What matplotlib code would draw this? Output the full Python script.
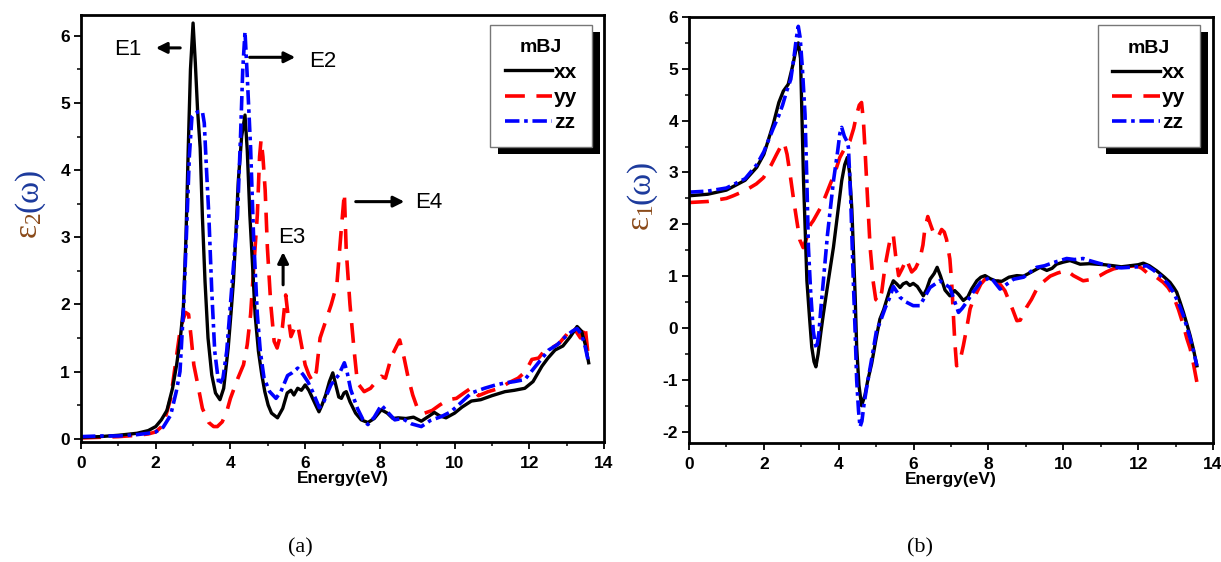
import matplotlib
matplotlib.use("Agg")
import matplotlib.pyplot as plt
from matplotlib.patches import Rectangle
from matplotlib.ticker import MultipleLocator

plt.rcParams['font.family'] = ['Liberation Sans', 'DejaVu Sans']
plt.rcParams['font.weight'] = 'bold'
plt.rcParams['mathtext.fontset'] = 'stix'

# ---------------- data: epsilon_2 (panel a) ----------------
e2_xx_x = [0, 0.5, 1.0, 1.5, 1.8, 2.0, 2.15, 2.3, 2.45, 2.56, 2.66, 2.74, 2.81, 2.87, 2.93, 3.0,
           3.06, 3.12, 3.19, 3.25, 3.32, 3.4, 3.5, 3.6, 3.72, 3.82, 3.94, 4.02, 4.08, 4.15, 4.21,
           4.3, 4.39, 4.45, 4.52, 4.6, 4.66, 4.75, 4.84, 4.92, 5.01, 5.1, 5.26, 5.4, 5.52, 5.62,
           5.7, 5.8, 5.9, 6.0, 6.1, 6.2, 6.3, 6.37, 6.45, 6.55, 6.65, 6.74, 6.82, 6.9, 6.97, 7.04,
           7.1, 7.2, 7.35, 7.5, 7.68, 7.85, 8.04, 8.2, 8.35, 8.49, 8.7, 8.9, 9.11, 9.3, 9.46, 9.6,
           9.77, 10.0, 10.2, 10.45, 10.7, 11.0, 11.35, 11.6, 11.88, 12.1, 12.34, 12.5, 12.69, 12.9,
           13.1, 13.28, 13.4, 13.5, 13.59]
e2_xx_y = [0.02, 0.03, 0.05, 0.08, 0.12, 0.18, 0.28, 0.42, 0.75, 1.1, 1.5, 1.95, 3.0, 4.3, 5.5, 6.19,
           5.6, 4.9, 4.33, 3.3, 2.34, 1.5, 0.95, 0.68, 0.58, 0.75, 1.35, 1.9, 2.34, 3.1, 3.83,
           4.5, 4.82, 4.3, 3.33, 2.5, 1.85, 1.3, 0.95, 0.7, 0.5, 0.38, 0.31, 0.45, 0.68, 0.72,
           0.65, 0.75, 0.72, 0.8, 0.72, 0.6, 0.48, 0.40, 0.5, 0.65, 0.85, 0.98, 0.8, 0.62, 0.6, 0.68,
           0.7, 0.55, 0.38, 0.28, 0.24, 0.3, 0.43, 0.38, 0.3, 0.31, 0.3, 0.32, 0.26, 0.33, 0.39, 0.34,
           0.31, 0.38, 0.47, 0.56, 0.58, 0.64, 0.70, 0.72, 0.75, 0.85, 1.08, 1.2, 1.32, 1.38,
           1.52, 1.67, 1.6, 1.4, 1.13]

e2_yy_x = [0, 0.5, 1.0, 1.5, 1.8, 2.0, 2.2, 2.4, 2.55, 2.65, 2.72, 2.8, 2.88, 2.95, 3.02, 3.11,
           3.25, 3.42, 3.55, 3.65, 3.78, 3.9, 4.0, 4.2, 4.35, 4.45, 4.54, 4.63, 4.72, 4.78, 4.82,
           4.87, 4.93, 4.99, 5.08, 5.17, 5.25, 5.39, 5.48, 5.55, 5.62, 5.72, 5.8, 5.9, 6.0, 6.1,
           6.2, 6.3, 6.4, 6.55, 6.7, 6.85, 6.95, 7.05, 7.1, 7.2, 7.31, 7.4, 7.58, 7.75, 7.9, 8.04,
           8.15, 8.31, 8.53, 8.65, 8.75, 8.88, 9.02, 9.2, 9.4, 9.6, 9.83, 10.05, 10.25, 10.46,
           10.64, 10.9, 11.2, 11.44, 11.7, 11.9, 12.07, 12.25, 12.42, 12.6, 12.8, 13.0, 13.15,
           13.25, 13.37, 13.49, 13.58]
e2_yy_y = [0.01, 0.02, 0.03, 0.05, 0.07, 0.1, 0.2, 0.6, 1.2, 1.6, 1.75, 1.88, 1.85, 1.5, 1.1, 0.85,
           0.45, 0.24, 0.18, 0.18, 0.25, 0.4, 0.6, 0.9, 1.1, 1.4, 1.85, 2.6, 3.33, 4.2, 4.45,
           4.2, 3.7, 2.84, 2.0, 1.45, 1.35, 1.65, 2.14, 1.8, 1.52, 1.65, 1.7, 1.4, 1.1, 0.95,
           0.85, 1.0, 1.5, 1.75, 2.0, 2.3, 3.0, 3.66, 2.8, 2.0, 1.32, 0.83, 0.7, 0.75, 0.85, 0.93,
           0.9, 1.22, 1.47, 1.2, 0.93, 0.65, 0.43, 0.38, 0.42, 0.5, 0.58, 0.6, 0.68, 0.76,
           0.64, 0.7, 0.75, 0.83, 0.9, 1.0, 1.18, 1.2, 1.32, 1.35, 1.42, 1.55, 1.67,
           1.6, 1.5, 1.69, 1.22]

e2_zz_x = [0, 0.5, 1.0, 1.5, 1.8, 2.0, 2.2, 2.4, 2.55, 2.65, 2.75, 2.82, 2.9, 2.97, 3.05, 3.15,
           3.25, 3.3, 3.36, 3.42, 3.5, 3.58, 3.69, 3.8, 3.9, 4.0, 4.1, 4.19, 4.27, 4.33, 4.39,
           4.45, 4.54, 4.62, 4.72, 4.8, 4.9, 5.05, 5.22, 5.35, 5.53, 5.65, 5.8, 5.95, 6.07, 6.2,
           6.38, 6.5, 6.69, 6.9, 7.05, 7.12, 7.22, 7.4, 7.55, 7.68, 7.85, 8.04, 8.2, 8.4, 8.6,
           8.85, 9.11, 9.35, 9.65, 9.9, 10.2, 10.45, 10.8, 11.1, 11.35, 11.6, 11.88, 12.2, 12.52,
           12.75, 12.97, 13.15, 13.28, 13.4, 13.5, 13.58]
e2_zz_y = [0.03, 0.04, 0.04, 0.06, 0.08, 0.1, 0.17, 0.35, 0.7, 1.0, 2.0, 3.0, 4.2, 4.8, 4.85, 4.87,
           4.87, 4.7, 4.0, 3.35, 2.2, 1.3, 0.8, 0.9, 1.3, 2.0, 2.7, 3.33, 4.5, 5.5, 6.06,
           5.4, 4.33, 3.0, 1.85, 1.3, 0.9, 0.7, 0.6, 0.7, 0.94, 0.98, 1.05, 0.95, 0.85, 0.7,
           0.46, 0.55, 0.8, 0.95, 1.13, 1.0, 0.73, 0.45, 0.28, 0.21, 0.32, 0.5, 0.4, 0.28, 0.3,
           0.22, 0.18, 0.27, 0.33, 0.4, 0.55, 0.68, 0.75, 0.8, 0.83, 0.85, 0.88, 1.1, 1.32,
           1.4, 1.52, 1.6, 1.64, 1.55, 1.36, 1.15]

# ---------------- data: epsilon_1 (panel b) ----------------
e1_xx_x = [0, 0.5, 1.0, 1.5, 1.81, 2.0, 2.25, 2.4, 2.52, 2.65, 2.78, 2.85, 2.92, 2.98, 3.06, 3.15,
           3.22, 3.28, 3.34, 3.39, 3.45, 3.52, 3.59, 3.72, 3.86, 3.97, 4.08, 4.16, 4.23, 4.29,
           4.35, 4.39, 4.44, 4.48, 4.54, 4.61, 4.7, 4.78, 4.88, 5.0, 5.1, 5.2, 5.37, 5.46, 5.55,
           5.64, 5.72, 5.81, 5.9, 5.99, 6.1, 6.26, 6.35, 6.44, 6.55, 6.63, 6.72, 6.84, 6.97, 7.1,
           7.2, 7.33, 7.45, 7.55, 7.69, 7.8, 7.91, 8.05, 8.18, 8.36, 8.55, 8.76, 8.94, 9.15, 9.38,
           9.56, 9.7, 9.82, 10.0, 10.18, 10.3, 10.45, 10.7, 10.89, 11.1, 11.34, 11.55, 11.78,
           12.0, 12.14, 12.3, 12.5, 12.7, 12.85, 12.95, 13.03, 13.12, 13.21, 13.3, 13.39, 13.48,
           13.57]
e1_xx_y = [2.55, 2.58, 2.66, 2.85, 3.1, 3.35, 3.93, 4.35, 4.57, 4.7, 5.09, 5.35, 5.5, 5.2, 2.84, 0.91,
           0.2, -0.37, -0.65, -0.75, -0.5, -0.1, 0.27, 0.9, 1.56, 2.2, 2.84, 3.15, 3.29, 3.0,
           2.3, 1.56, 0.6, -0.37, -1.1, -1.5, -1.3, -1.0, -0.69, -0.2, 0.17, 0.35, 0.75, 0.91, 0.85,
           0.78, 0.85, 0.88, 0.82, 0.86, 0.8, 0.62, 0.75, 0.94, 1.05, 1.17, 1.0, 0.73, 0.62, 0.72,
           0.65, 0.53, 0.6, 0.75, 0.91, 0.98, 1.01, 0.95, 0.91, 0.9, 0.98, 1.01, 1.0, 1.08, 1.17,
           1.11, 1.15, 1.23, 1.27, 1.3, 1.27, 1.23, 1.24, 1.23, 1.22, 1.2, 1.18, 1.2,
           1.22, 1.25, 1.2, 1.1, 0.98, 0.88, 0.78, 0.69, 0.5, 0.3, 0.08, -0.15, -0.42,
           -0.73]

e1_yy_x = [0, 0.5, 1.0, 1.18, 1.5, 1.8, 1.99, 2.2, 2.34, 2.45, 2.54, 2.62, 2.7, 2.8, 2.88, 2.96,
           3.05, 3.15, 3.25, 3.32, 3.5, 3.65, 3.77, 3.9, 4.03, 4.15, 4.3, 4.4, 4.48, 4.55, 4.61,
           4.66, 4.7, 4.77, 4.84, 4.92, 4.99, 5.08, 5.15, 5.24, 5.33, 5.4, 5.46, 5.52, 5.6, 5.7,
           5.81, 5.88, 5.95, 6.05, 6.17, 6.25, 6.3, 6.38, 6.45, 6.55, 6.65, 6.75, 6.82, 6.88, 6.97,
           7.02, 7.06, 7.1, 7.15, 7.22, 7.33, 7.42, 7.51, 7.6, 7.69, 7.8, 7.96, 8.05, 8.13, 8.25,
           8.44, 8.53, 8.65, 8.76, 8.85, 9.02, 9.15, 9.29, 9.45, 9.65, 9.85, 10.09, 10.27, 10.4,
           10.53, 10.7, 10.98, 11.15, 11.34, 11.6, 11.96, 12.1, 12.23, 12.45, 12.67, 12.8, 12.94,
           13.08, 13.21, 13.3, 13.39, 13.48, 13.57]
e1_yy_y = [2.42, 2.44, 2.5, 2.55, 2.65, 2.78, 2.9, 3.15, 3.35, 3.5, 3.58, 3.35, 2.97, 2.45, 2.07, 1.7,
           1.55, 1.75, 2.0, 2.07, 2.3, 2.55, 2.77, 3.0, 3.29, 3.45, 3.61, 3.85, 4.12, 4.3, 4.35,
           4.0, 3.48, 2.5, 1.55, 0.9, 0.55, 0.5, 0.7, 1.2, 1.55, 1.8, 1.78, 1.4, 1.01, 1.15,
           1.33, 1.2, 1.08, 1.15, 1.33, 1.6, 1.9, 2.15, 2.0, 1.8, 1.75, 1.9, 1.85, 1.71, 1.33,
           0.85, 0.3, -0.25, -0.73, -0.7, -0.34, 0.0, 0.37, 0.55, 0.69, 0.85, 0.98, 1.0, 0.98, 0.9,
           0.72, 0.56, 0.35, 0.14, 0.15, 0.4, 0.55, 0.75, 0.88, 1.0, 1.06, 1.11, 1.01, 0.96,
           0.91, 0.93, 1.01, 1.08, 1.14, 1.18, 1.2, 1.15, 1.07, 1.0, 0.88, 0.78, 0.62,
           0.35, 0.05, -0.2, -0.4, -0.7, -1.05]

e1_zz_x = [0, 0.5, 1.0, 1.5, 1.81, 2.0, 2.25, 2.4, 2.5, 2.61, 2.72, 2.8, 2.87, 2.92, 2.97, 3.03,
           3.1, 3.15, 3.19, 3.25, 3.32, 3.37, 3.41, 3.47, 3.52, 3.59, 3.7, 3.86, 3.97, 4.03, 4.08,
           4.15, 4.22, 4.26, 4.32, 4.39, 4.44, 4.48, 4.53, 4.57, 4.62, 4.68, 4.75, 4.88, 5.01, 5.1,
           5.25, 5.37, 5.46, 5.55, 5.64, 5.8, 5.99, 6.17, 6.3, 6.44, 6.7, 6.97, 7.08, 7.2, 7.3,
           7.42, 7.6, 7.79, 8.06, 8.2, 8.31, 8.5, 8.67, 8.94, 9.1, 9.29, 9.5, 9.73, 10.09, 10.3,
           10.53, 10.7, 10.89, 11.1, 11.34, 11.55, 11.78, 12.0, 12.23, 12.4, 12.59, 12.8, 12.94,
           13.08, 13.21, 13.3, 13.39, 13.48, 13.57]
e1_zz_y = [2.62, 2.64, 2.7, 2.88, 3.15, 3.4, 3.85, 4.1, 4.3, 4.57, 4.8, 5.2, 5.6, 5.82, 5.6, 5.0,
           4.12, 2.8, 1.56, 0.7, -0.05, -0.3, -0.4, -0.1, 0.35, 0.91, 1.8, 2.84, 3.4, 3.75, 3.87,
           3.7, 3.6, 3.48, 2.5, 0.91, -0.1, -1.01, -1.6, -1.91, -1.8, -1.45, -1.14, -0.6, -0.05, 0.1,
           0.4, 0.6, 0.8, 0.7, 0.59, 0.5, 0.43, 0.43, 0.6, 0.78, 0.91, 0.78, 0.55, 0.3, 0.38,
           0.5, 0.7, 0.88, 0.98, 0.85, 0.75, 0.85, 0.94, 0.98, 1.07, 1.17, 1.2, 1.26, 1.34, 1.32,
           1.34, 1.3, 1.26, 1.22, 1.17, 1.16, 1.17, 1.18, 1.2, 1.12, 1.01, 0.85, 0.69,
           0.48, 0.24, 0.02, -0.2, -0.45, -0.73]

legend_title = "mBJ"
series_labels = ["xx", "yy", "zz"]
x_ticks = [0, 2, 4, 6, 8, 10, 12, 14]
ya_ticks = [0, 1, 2, 3, 4, 5, 6]
yb_ticks = [-2, -1, 0, 1, 2, 3, 4, 5, 6]

# ---------------- figure ----------------
fig = plt.figure(figsize=(12.21, 5.62), dpi=100)
axA = fig.add_axes([81/1221, 1-442/562, 523/1221, 427/562])
axB = fig.add_axes([689/1221, 1-443/562, 524/1221, 426/562])

styles = [dict(color='black', lw=2.4, ls='-'),
          dict(color='#ff0000', lw=2.6, ls=(0, (5.5, 3.2))),
          dict(color='#0000ff', lw=2.6, ls=(0, (4, 1.3, 1, 1.3)))]

for ax, data in [(axA, [(e2_xx_x, e2_xx_y), (e2_yy_x, e2_yy_y), (e2_zz_x, e2_zz_y)]),
                 (axB, [(e1_xx_x, e1_xx_y), (e1_yy_x, e1_yy_y), (e1_zz_x, e1_zz_y)])]:
    lines = []
    for (xs, ys), st, lab in zip(data, styles, series_labels):
        ln, = ax.plot(xs, ys, label=lab, **st)
        lines.append(ln)
    lines[0].set_zorder(2.2)
    lines[1].set_zorder(2.1)
    lines[2].set_zorder(2.3)
    ax.set_xlim(0, 14)
    ax.set_xticks(x_ticks, labels=[str(v) for v in x_ticks], fontweight='bold', fontsize=12.5)
    ax.xaxis.set_minor_locator(MultipleLocator(1))
    ax.yaxis.set_minor_locator(MultipleLocator(0.5))
    for sp in ax.spines.values():
        sp.set_linewidth(2.0)
    ax.tick_params(which='major', direction='out', length=5, width=1.3, pad=5)
    ax.tick_params(which='minor', direction='out', length=3, width=1.1)
    ax.set_xlabel("Energy(eV)", fontsize=12.5, fontweight='bold', labelpad=0)

axA.set_ylim(-0.05, 6.31)
axA.set_yticks(ya_ticks, labels=[str(v) for v in ya_ticks], fontweight='bold', fontsize=12.5)
axB.set_ylim(-2.22, 6.0)
axB.set_yticks(yb_ticks, labels=[str(v) for v in yb_ticks], fontweight='bold', fontsize=12.5)
axA.tick_params(axis='y', pad=3)
axB.tick_params(axis='y', pad=3)

# y labels (two-colour, upright serif epsilon)
brown = '#8a4a1a'
navy = '#1c3a9c'
serif = ['Liberation Serif', 'DejaVu Serif']
axA.text(-0.099, 0.506, r'$\mathregular{ε_2}$', transform=axA.transAxes, rotation=90,
         ha='center', va='center', fontsize=24, color=brown, family=serif, fontweight='normal')
axA.text(-0.099, 0.590, '(ω)', transform=axA.transAxes, rotation=90,
         ha='center', va='center', fontsize=24, color=navy, family=serif, fontweight='normal')
axB.text(-0.091, 0.528, r'$\mathregular{ε_1}$', transform=axB.transAxes, rotation=90,
         ha='center', va='center', fontsize=24, color=brown, family=serif, fontweight='normal')
axB.text(-0.091, 0.612, '(ω)', transform=axB.transAxes, rotation=90,
         ha='center', va='center', fontsize=24, color=navy, family=serif, fontweight='normal')

# legends
legs = []
for ax, anchor in [(axA, (0.977, 0.977)), (axB, (0.975, 0.981))]:
    leg = ax.legend(title=legend_title, loc='upper right', bbox_to_anchor=anchor,
                    fancybox=False, framealpha=1, edgecolor='#777777',
                    prop={'weight': 'bold', 'size': 15}, handlelength=2.3,
                    handletextpad=0.08, labelspacing=0.3, borderpad=0.7,
                    title_fontproperties={'weight': 'bold', 'size': 14}, borderaxespad=0)
    leg.get_frame().set_linewidth(1.0)
    leg.set_zorder(6)
    legs.append((ax, leg))

# annotations on panel (a)
arrowprops = dict(arrowstyle='-|>', color='black', lw=2.2, mutation_scale=16)
axA.annotate('', xy=(1.93, 5.82), xytext=(2.73, 5.82), arrowprops=arrowprops)
axA.text(1.26, 5.8, 'E1', fontsize=16, ha='center', va='center', fontweight='normal')
axA.annotate('', xy=(5.81, 5.68), xytext=(4.44, 5.68), arrowprops=arrowprops)
axA.text(6.48, 5.62, 'E2', fontsize=16, ha='center', va='center', fontweight='normal')
axA.annotate('', xy=(5.41, 2.82), xytext=(5.41, 2.25), arrowprops=arrowprops)
axA.text(5.65, 2.99, 'E3', fontsize=16, ha='center', va='center', fontweight='normal')
axA.annotate('', xy=(8.73, 3.53), xytext=(7.28, 3.53), arrowprops=arrowprops)
axA.text(9.31, 3.51, 'E4', fontsize=16, ha='center', va='center', fontweight='normal')

# captions
fig.text(300/1221, 1-548/562, '(a)', fontsize=16, family='Liberation Serif', fontweight='normal',
         ha='center', va='center')
fig.text(920/1221, 1-548/562, '(b)', fontsize=16, family='Liberation Serif', fontweight='normal',
         ha='center', va='center')

# black offset shadows behind legends
fig.canvas.draw()
for ax, leg in legs:
    bb = leg.get_window_extent()
    inv = fig.transFigure.inverted()
    (x0, y0), (x1, y1) = inv.transform([[bb.x0 + 8, bb.y0 - 7], [bb.x1 + 8, bb.y1 - 7]])
    rect = Rectangle((x0, y0), x1 - x0, y1 - y0, transform=fig.transFigure,
                     facecolor='black', edgecolor='none', zorder=5.5)
    ax.add_artist(rect)
    rect.set_clip_on(False)

fig.savefig('out.png', dpi=100)
